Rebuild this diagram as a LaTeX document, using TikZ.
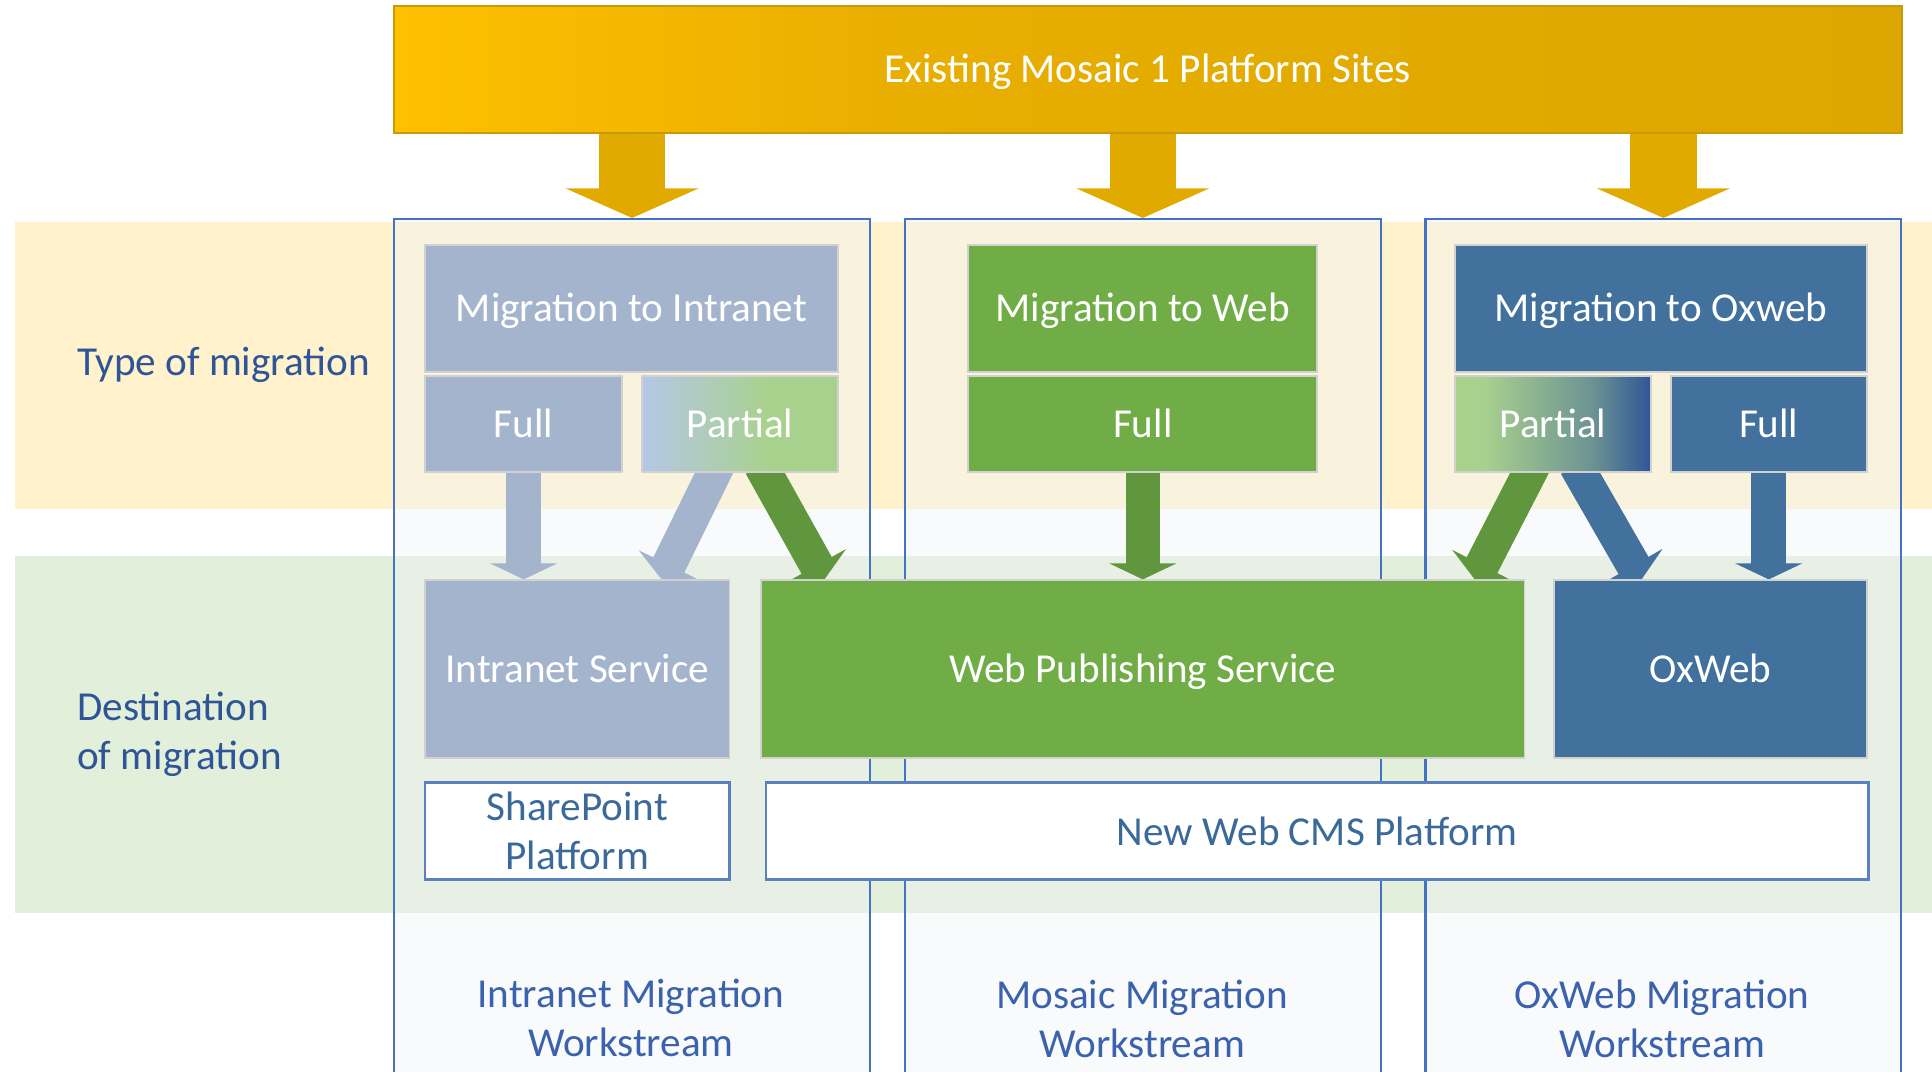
\documentclass[tikz,border=0pt]{standalone}
\usepackage{fontspec}
\setmainfont{Carlito}
\usetikzlibrary{arrows.meta,calc,positioning}

\definecolor{goldA}{HTML}{FFC000}
\definecolor{goldB}{HTML}{E8AE00}
\definecolor{goldC}{HTML}{DCA700}
\definecolor{goldline}{HTML}{C99A06}
\definecolor{goldarrowc}{HTML}{E0AA00}
\definecolor{typeband}{HTML}{FFF2CC}
\definecolor{destband}{HTML}{E2EFDA}
\definecolor{colblue}{HTML}{4472C4}
\definecolor{colfill}{HTML}{F1F2F7}
\definecolor{intragray}{HTML}{A5B4CD}
\definecolor{webgreen}{HTML}{70AD47}
\definecolor{flowgreen}{HTML}{5F963E}
\definecolor{oxblue}{HTML}{41719C}
\definecolor{partblue}{HTML}{B4C7E7}
\definecolor{partgreen}{HTML}{A9D18E}
\definecolor{partteal}{HTML}{6C9392}
\definecolor{partdark}{HTML}{2F5597}
\definecolor{txtblue}{HTML}{2F5597}
\definecolor{wsblue}{HTML}{3B62AD}
\definecolor{platblue}{HTML}{3A6A9A}
\definecolor{platline}{HTML}{5B80BE}

\pgfdeclarehorizontalshading{bannershade}{100bp}{color(0bp)=(goldA); color(25bp)=(goldA); color(42bp)=(goldB); color(75bp)=(goldC); color(100bp)=(goldC)}
\pgfdeclarehorizontalshading{partIshade}{100bp}{color(0bp)=(partblue); color(25bp)=(partblue); color(57bp)=(partgreen); color(100bp)=(partgreen)}
\pgfdeclarehorizontalshading{partOshade}{100bp}{color(0bp)=(partgreen); color(25bp)=(partgreen); color(32bp)=(partgreen); color(60bp)=(partteal); color(75bp)=(partdark); color(100bp)=(partdark)}

\pgfdeclarelayer{bands}
\pgfdeclarelayer{flows}
\pgfsetlayers{bands,flows,main}

\begin{document}
\begin{tikzpicture}
[
	                x = 0.01cm,
	                y = -0.01cm,
	             font = \fontsize{9.5}{11.4}\selectfont,
	       box/.style = { draw=black!18, line width=0.4pt, text=white, inner sep=0pt, text height=8.3pt, text depth=2.2pt },
	  platform/.style = { draw=platline, fill=white, text=platblue, line width=0.6pt, inner sep=0pt, align=center },
	    column/.style = { draw=colblue, fill=colfill, fill opacity=0.4, line width=0.5pt, minimum width=3.86cm, minimum height=7.02cm, inner sep=0pt },
	 sidelabel/.style = { text=txtblue, anchor=west, align=left, inner sep=0pt },
	   wslabel/.style = { text=wsblue, align=center },
	 goldarrow/.style = { draw=goldarrowc, line width=0.54cm, -{Triangle[width=1.07cm,length=0.24cm]} },
	      flow/.style = { line width=0.28cm, -{Triangle[width=0.54cm,length=0.13cm]} }
]
	\useasboundingbox (0,0) rectangle (1568,870);

	% bands
	\begin{pgfonlayer}{bands}
	\fill [typeband] (12,180) rectangle (1568,413);
	\fill [destband] (12,451) rectangle (1568,741);

	% workstreams
	\node (colI) at (513,529)    [column] {};
	\node (colW) at (927.5,529)  [column] {};
	\node (colO) at (1350,529)   [column] {};
	\end{pgfonlayer}

	\node (typelbl) at (62,296) [sidelabel] {Type of migration};
	\node (destlbl) at (62,596) [sidelabel] {Destination\\of migration};

	\node (wsI) at (512,826)     [wslabel] {Intranet Migration\\Workstream};
	\node (wsW) at (927,827)     [wslabel] {Mosaic Migration\\Workstream};
	\node (wsO) at (1349,827)    [wslabel] {OxWeb Migration\\Workstream};

	% top
	\node (banner) at (931.5,56.5) [box, draw=goldline, shading=bannershade, minimum width=12.23cm, minimum height=1.03cm] {Existing Mosaic 1 Platform Sites};

	% types
	\node (migI)  at (512.5,250.5) [box, fill=intragray, minimum width=3.35cm, minimum height=1.03cm] {Migration to Intranet};
	\node (fullI) at (425,344)     [box, fill=intragray, minimum width=1.60cm, minimum height=0.78cm] {Full};
	\node (partI) at (600.5,344)   [box, shading=partIshade, minimum width=1.59cm, minimum height=0.78cm] {Partial};

	\node (migW)  at (927.5,250.5) [box, fill=webgreen, minimum width=2.83cm, minimum height=1.03cm] {Migration to Web};
	\node (fullW) at (927.5,344)   [box, fill=webgreen, minimum width=2.83cm, minimum height=0.78cm] {Full};

	\node (migO)  at (1348,250.5)  [box, fill=oxblue, minimum width=3.34cm, minimum height=1.03cm] {Migration to Oxweb};
	\node (partO) at (1260.5,344)  [box, shading=partOshade, minimum width=1.59cm, minimum height=0.78cm] {Partial};
	\node (fullO) at (1435.5,344)  [box, fill=oxblue, minimum width=1.59cm, minimum height=0.78cm] {Full};

	% destinations
	\node (intranet) at (468.5,543) [box, fill=intragray, minimum width=2.47cm, minimum height=1.44cm] {Intranet Service};
	\node (webpub)   at (927.5,543) [box, fill=webgreen, minimum width=6.19cm, minimum height=1.44cm] {Web Publishing Service};
	\node (oxweb)    at (1388,543)  [box, fill=oxblue, minimum width=2.54cm, minimum height=1.44cm] {OxWeb};

	\node (sharept) at (468.5,674.5) [platform, minimum width=2.47cm, minimum height=0.79cm] {SharePoint\\Platform};
	\node (cms)     at (1069,674.5)  [platform, minimum width=8.94cm, minimum height=0.79cm] {New Web CMS Platform};

	% edges
	\begin{pgfonlayer}{flows}
	\draw [goldarrow] ([yshift=0.02cm]banner.south -| colI.north) -- (colI.north);
	\draw [goldarrow] ([yshift=0.02cm]banner.south -| colW.north) -- (colW.north);
	\draw [goldarrow] ([yshift=0.02cm]banner.south -| colO.north) -- (colO.north);

	\draw [flow, draw=intragray] ([yshift=0.05cm]fullI.south) -- (fullI.south |- intranet.north);
	\draw [flow, draw=intragray] ([xshift=-0.18cm,yshift=0.06cm]partI.south) -- ([xshift=0.685cm]intranet.north);
	\draw [flow, draw=flowgreen] ([xshift=0.17cm,yshift=0.06cm]partI.south) -- ([xshift=0.52cm]webpub.north west);
	\draw [flow, draw=flowgreen] ([yshift=0.05cm]fullW.south) -- (webpub.north);
	\draw [flow, draw=flowgreen] ([xshift=-0.16cm,yshift=0.06cm]partO.south) -- ([xshift=-0.41cm]webpub.north east);
	\draw [flow, draw=oxblue] ([xshift=0.185cm,yshift=0.06cm]partO.south) -- ([xshift=0.72cm]oxweb.north west);
	\draw [flow, draw=oxblue] ([yshift=0.05cm]fullO.south) -- (fullO.south |- oxweb.north);
	\end{pgfonlayer}
\end{tikzpicture}
\end{document}
